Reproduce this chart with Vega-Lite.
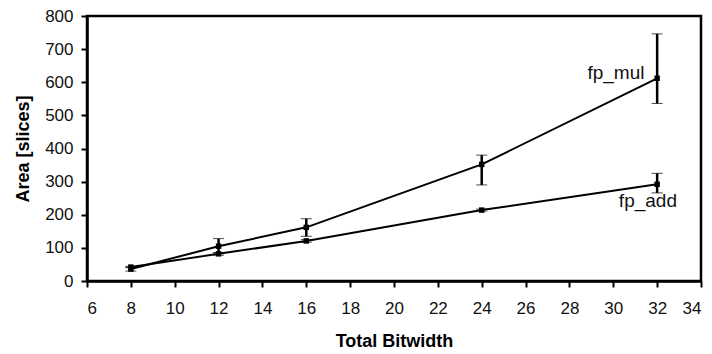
{
  "$schema": "https://vega.github.io/schema/vega-lite/v6.json",
  "autosize": "none",
  "width": 614,
  "height": 265,
  "padding": {"left": 87, "top": 16, "right": 11, "bottom": 73},
  "background": "white",
  "config": {
    "view": {"stroke": "black", "strokeWidth": 2.5},
    "font": "Liberation Sans",
    "axis": {
      "grid": false,
      "domainColor": "black",
      "domainWidth": 2.5,
      "tickColor": "black",
      "tickWidth": 2,
      "tickSize": 6,
      "labelColor": "#111",
      "labelFont": "Liberation Sans",
      "labelFontSize": 17,
      "titleFont": "Liberation Sans",
      "titleFontSize": 18,
      "titleFontWeight": "bold",
      "titleColor": "black"
    }
  },
  "datasets": {
    "series": [
      {"bitwidth": 8, "area": 36, "lo": 30, "hi": 42, "op": "fp_mul"},
      {"bitwidth": 12, "area": 105, "lo": 84, "hi": 128, "op": "fp_mul"},
      {"bitwidth": 16, "area": 162, "lo": 135, "hi": 188, "op": "fp_mul"},
      {"bitwidth": 24, "area": 352, "lo": 290, "hi": 380, "op": "fp_mul"},
      {"bitwidth": 32, "area": 612, "lo": 536, "hi": 746, "op": "fp_mul"},
      {"bitwidth": 8, "area": 42, "lo": 40, "hi": 44, "op": "fp_add"},
      {"bitwidth": 12, "area": 82, "lo": 78, "hi": 86, "op": "fp_add"},
      {"bitwidth": 16, "area": 121, "lo": 117, "hi": 125, "op": "fp_add"},
      {"bitwidth": 24, "area": 214, "lo": 211, "hi": 217, "op": "fp_add"},
      {"bitwidth": 32, "area": 292, "lo": 266, "hi": 325, "op": "fp_add"}
    ],
    "labels": [
      {"bitwidth": 30.12, "area": 629, "text": "fp_mul"},
      {"bitwidth": 31.58, "area": 241, "text": "fp_add"}
    ]
  },
  "layer": [
    {
      "data": {"name": "series"},
      "mark": {"type": "line", "color": "black", "strokeWidth": 2},
      "encoding": {
        "x": {"field": "bitwidth", "type": "quantitative", "scale": {"domain": [6, 34], "nice": false, "zero": false},
              "axis": {"values": [6,8,10,12,14,16,18,20,22,24,26,28,30,32,34], "title": "Total Bitwidth", "titlePadding": 16, "labelPadding": 13}},
        "y": {"field": "area", "type": "quantitative", "scale": {"domain": [0, 800], "nice": false},
              "axis": {"tickCount": 8, "title": "Area [slices]", "titlePadding": 12, "labelPadding": 8}},
        "detail": {"field": "op"}
      }
    },
    {
      "data": {"name": "series"},
      "mark": {"type": "errorbar", "ticks": {"color": "black", "strokeWidth": 2.5, "size": 11}, "rule": {"color": "black", "strokeWidth": 2.5}},
      "encoding": {
        "x": {"field": "bitwidth", "type": "quantitative"},
        "y": {"field": "lo", "type": "quantitative",
              "axis": {"tickCount": 8, "title": "Area [slices]", "titlePadding": 12, "labelPadding": 8}},
        "y2": {"field": "hi"}
      }
    },
    {
      "data": {"name": "series"},
      "mark": {"type": "point", "filled": true, "color": "black", "shape": "square", "size": 30, "opacity": 1},
      "encoding": {
        "x": {"field": "bitwidth", "type": "quantitative"},
        "y": {"field": "area", "type": "quantitative"}
      }
    },
    {
      "data": {"name": "labels"},
      "mark": {"type": "text", "font": "Liberation Sans", "fontSize": 19, "color": "#111", "align": "center", "baseline": "middle"},
      "encoding": {
        "x": {"field": "bitwidth", "type": "quantitative"},
        "y": {"field": "area", "type": "quantitative"},
        "text": {"field": "text"}
      }
    }
  ]
}
